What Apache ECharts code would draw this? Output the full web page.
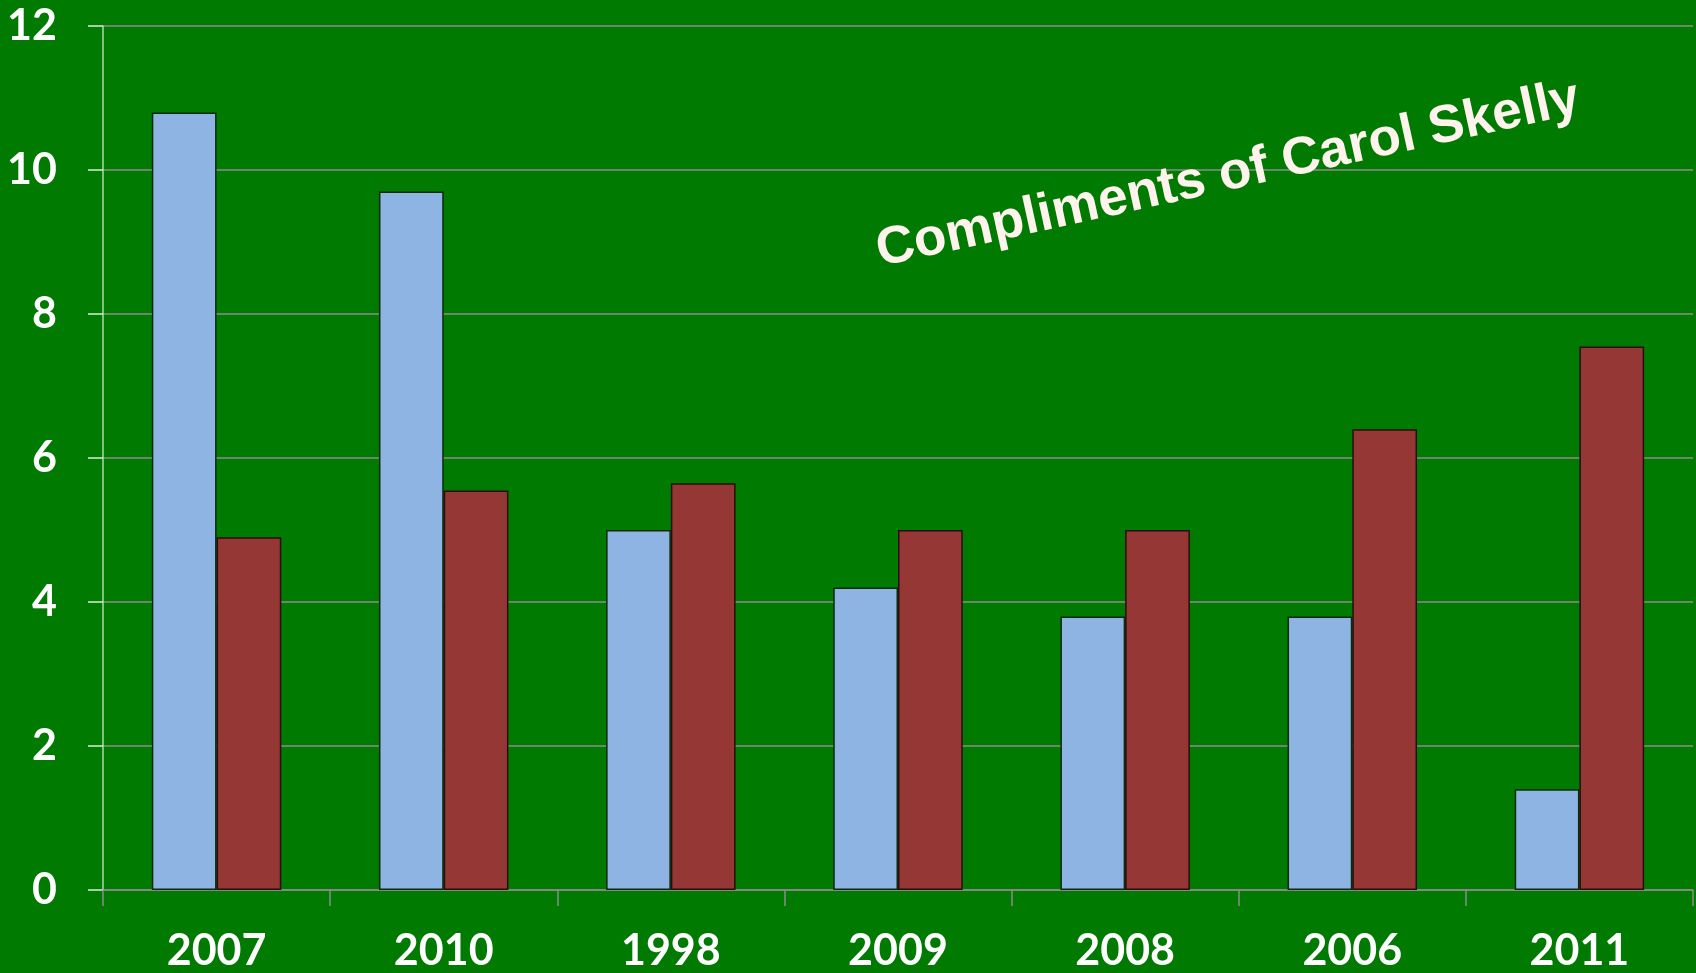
<!DOCTYPE html>
<html>
<head>
<meta charset="utf-8">
<script src="https://cdn.jsdelivr.net/npm/echarts@6/dist/echarts.min.js"></script>
<style>
  html, body { margin: 0; padding: 0; background: #007a00; }
  #chart { width: 1696px; height: 973px; }
</style>
</head>
<body>
<div id="chart"></div>
<script>
// categories and values
const years = ["2007", "2010", "1998", "2009", "2008", "2006", "2011"];
const blueValues = [10.8, 9.7, 5.0, 4.2, 3.8, 3.8, 1.4];
const redValues = [4.9, 5.55, 5.65, 5.0, 5.0, 6.4, 7.55];
const yTicks = [0, 2, 4, 6, 8, 10, 12];
const watermark = "Compliments of Carol Skelly";

const chart = echarts.init(document.getElementById("chart"));

const labelFont = {
  color: "#ffffff",
  fontFamily: "Lato, 'Open Sans', sans-serif",
  fontWeight: "bold",
  fontSize: 43,
};

const option = {
  backgroundColor: "#007a00",
  animation: false,
  grid: { left: 103, right: 3, top: 26, bottom: 82 },
  xAxis: {
    type: "category",
    data: years,
    axisLine: { lineStyle: { color: "#8c8c8c", width: 1.5 } },
    axisTick: { show: true, length: 16, lineStyle: { color: "#8c8c8c", width: 1.5 } },
    axisLabel: { ...labelFont, margin: 40 },
  },
  yAxis: {
    type: "value",
    min: yTicks[0],
    max: yTicks[yTicks.length - 1],
    interval: 2,
    axisLine: { show: true, lineStyle: { color: "#a6dca6", width: 1.5 } },
    axisTick: { show: true, length: 15, lineStyle: { color: "#d8f0d8", width: 1.5 } },
    axisLabel: { ...labelFont, margin: 46 },
    splitLine: { lineStyle: { color: "#8c8c8c", width: 1.5 } },
  },
  series: [
    {
      name: "blue",
      type: "bar",
      data: blueValues,
      barGap: 0,
      barCategoryGap: "43%",
      itemStyle: { color: "#8eb4e3", borderColor: "#0d2a10", borderWidth: 1.5 },
    },
    {
      name: "red",
      type: "bar",
      data: redValues,
      itemStyle: { color: "#953735", borderColor: "#2a0d0d", borderWidth: 1.5 },
    },
  ],
  graphic: [
    {
      type: "text",
      x: 1228,
      y: 175,
      rotation: 0.216,
      z: 100,
      style: {
        text: watermark,
        fill: "#fff3ee",
        font: "bold 53px 'Liberation Sans', Arial, sans-serif",
        textAlign: "center",
        textVerticalAlign: "middle",
        shadowColor: "rgba(0,0,0,0.55)",
        shadowOffsetX: 2,
        shadowOffsetY: 3,
        shadowBlur: 3,
      },
    },
  ],
};

chart.setOption(option);
</script>
</body>
</html>
